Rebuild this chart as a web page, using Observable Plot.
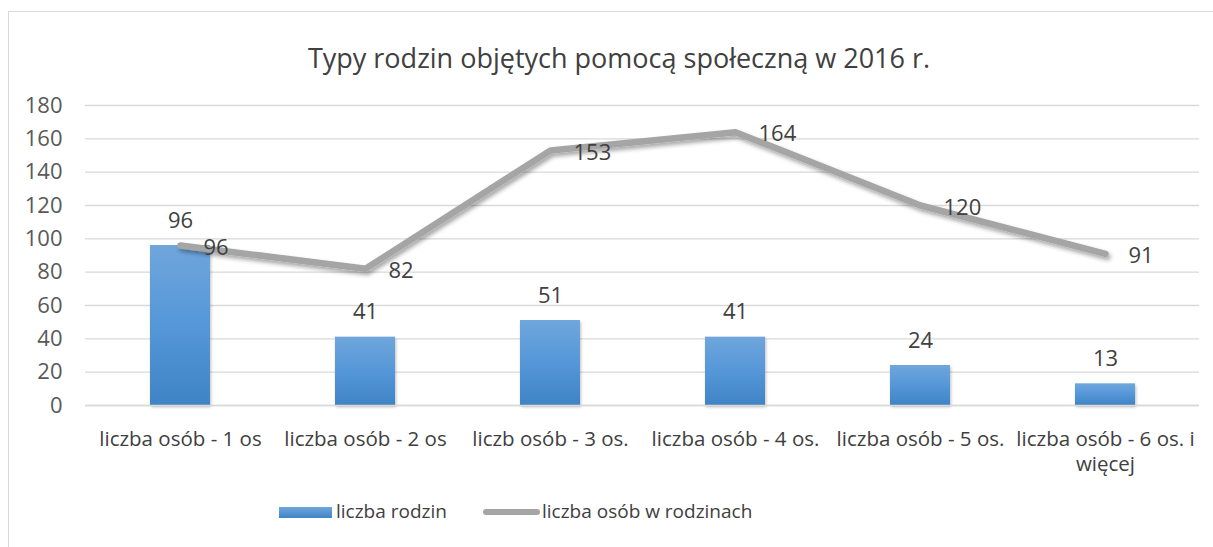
<!DOCTYPE html>
<html>
<head>
<meta charset="utf-8">
<script src="https://cdn.jsdelivr.net/npm/d3@7"></script>
<script src="https://cdn.jsdelivr.net/npm/@observablehq/plot@0.6"></script>
<style>
  html, body { margin: 0; padding: 0; background: #fff; }
  #wrap { position: relative; width: 1213px; height: 547px; overflow: hidden; font-family: "Open Sans", sans-serif; color: #404040; }
  #frame { position: absolute; left: 8px; top: 11px; width: 1300px; height: 600px; border-left: 1.5px solid #d9d9d9; border-top: 1.5px solid #d9d9d9; }
  #title { position: absolute; left: 0; width: 1238px; top: 40px; text-align: center; font-size: 27px; line-height: 36px; color: #404040; }
  #chart { position: absolute; left: 0; top: 80px; }
  .leg { position: absolute; top: 498px; font-size: 19px; line-height: 26px; color: #404040; }
  .sw { position: absolute; }
</style>
</head>
<body>
<svg width="0" height="0" style="position:absolute">
  <defs>
    <linearGradient id="barGrad" x1="0" y1="0" x2="0" y2="1">
      <stop offset="0" stop-color="#6fa6dc"/>
      <stop offset="0.5" stop-color="#5597d8"/>
      <stop offset="1" stop-color="#3f84c5"/>
    </linearGradient>
    <filter id="lineShadow" x="-10%" y="-30%" width="120%" height="160%">
      <feDropShadow dx="2" dy="3" stdDeviation="2" flood-color="#000" flood-opacity="0.35"/>
    </filter>
    <filter id="barShadow" x="-20%" y="-10%" width="140%" height="120%">
      <feDropShadow dx="1" dy="2" stdDeviation="1.5" flood-color="#000" flood-opacity="0.25"/>
    </filter>
  </defs>
</svg>
<div id="wrap">
  <div id="frame"></div>
  <div id="title">Typy rodzin objętych pomocą społeczną w 2016 r.</div>
  <div id="chart"></div>
  <div class="sw" style="left:279px; top:507px; width:53px; height:11px; background:linear-gradient(#6fa6dc,#3f84c5);"></div>
  <div class="leg" style="left:336px;">liczba rodzin</div>
  <div class="sw" style="left:483px; top:509px; width:57px; height:6px; border-radius:3px; background:#a5a5a5;"></div>
  <div class="leg" style="left:542px;">liczba osób w rodzinach</div>
</div>
<script>
const categories = ["liczba osób - 1 os", "liczba osób - 2 os", "liczb osób - 3 os.", "liczba osób - 4 os.", "liczba osób - 5 os.", "liczba osób - 6 os. i\nwięcej"];
const liczbaRodzin = [96, 41, 51, 41, 24, 13];
const liczbaOsob = [96, 82, 153, 164, 120, 91];
const yTicks = [0, 20, 40, 60, 80, 100, 120, 140, 160, 180];

const rows = categories.map((c, i) => ({cat: c, rodziny: liczbaRodzin[i], osoby: liczbaOsob[i]}));

const chart = Plot.plot({
  width: 1213,
  height: 400,
  marginTop: 25,
  marginBottom: 75,
  marginLeft: 85,
  marginRight: 14,
  style: {fontFamily: "Open Sans, sans-serif", fontSize: "21px", color: "#595959", background: "transparent"},
  x: {domain: categories, paddingInner: 0.677, paddingOuter: 0.3385, label: null, tickSize: 0, tickPadding: 22},
  y: {domain: [0, 180], label: null, axis: null},
  marks: [
    Plot.gridY(yTicks, {stroke: "#d9d9d9", strokeOpacity: 1, strokeWidth: 1.3}),
    Plot.axisX({tickSize: 0, tickPadding: 22, fontSize: 20.5, lineHeight: 1.25, fill: "#404040", label: null}),
    Plot.text(yTicks, {y: d => d, text: d => String(d), frameAnchor: "left", dx: -23, textAnchor: "end", fontSize: 22, fill: "#595959"}),
    Plot.barY(rows, {x: "cat", y: "rodziny", fill: "url(#barGrad)"}),
    Plot.ruleY([0], {stroke: "#d9d9d9", strokeWidth: 1.5}),
    Plot.line(rows, {x: "cat", y: "osoby", stroke: "#a5a5a5", strokeWidth: 6.5, strokeLinecap: "round", strokeLinejoin: "round"}),
    Plot.text(rows, {x: "cat", y: "rodziny", text: d => String(d.rodziny), dy: -25, fontSize: 22, fill: "#404040"}),
    Plot.text(rows, {x: "cat", y: "osoby", text: d => String(d.osoby), dx: 23, dy: 2, textAnchor: "start", fontSize: 22, fill: "#404040"})
  ]
});
document.getElementById("chart").appendChild(chart);
const svg = d3.select(chart);
svg.selectAll('g[stroke="#a5a5a5"]').attr("filter", "url(#lineShadow)");
svg.selectAll('g[fill="url(#barGrad)"]').attr("filter", "url(#barShadow)");
</script>
</body>
</html>
